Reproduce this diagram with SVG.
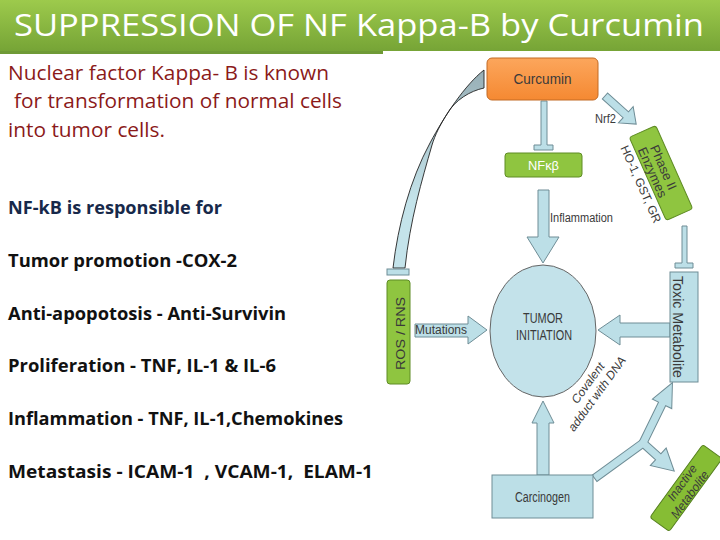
<svg xmlns="http://www.w3.org/2000/svg" width="720" height="540" viewBox="0 0 720 540">
<defs>
<linearGradient id="titleG" x1="0" y1="0" x2="0" y2="1"><stop offset="0" stop-color="#9dca4c"/><stop offset="1" stop-color="#76a436"/></linearGradient>
<linearGradient id="orangeG" x1="0" y1="0" x2="0" y2="1"><stop offset="0" stop-color="#fca65c"/><stop offset="1" stop-color="#f58932"/></linearGradient>
<linearGradient id="curveG" gradientUnits="userSpaceOnUse" x1="0" y1="70" x2="0" y2="200"><stop offset="0" stop-color="#98afb6"/><stop offset="1" stop-color="#c4e3ea"/></linearGradient>
</defs>
<style>
.lt{font-family:"Open Sans","Liberation Sans",sans-serif;font-size:20px;fill:#8b1a1a}
.lb{font-family:"Open Sans","Liberation Sans",sans-serif;font-size:17px;font-weight:bold;fill:#111111}
.dt{font-family:"Liberation Sans",Arial,sans-serif;fill:#3a3a3a}
.blue{fill:#bcdfe7;stroke:#6f8d96;stroke-width:1}
.green{fill:#8fc540;stroke:#5f8c25;stroke-width:1}
</style>
<rect width="720" height="540" fill="#ffffff"/>
<g id="title">
<rect x="0" y="0" width="720" height="51" fill="url(#titleG)"/>
<rect x="0" y="51" width="383" height="3" fill="#6f9a36"/>
<text x="14" y="36" font-family="'Open Sans','Liberation Sans',sans-serif" font-size="31" fill="#ffffff" textLength="690" lengthAdjust="spacingAndGlyphs">SUPPRESSION OF NF Kappa-B by Curcumin</text>
</g>
<g id="intro">
<text class="lt" x="8" y="80" textLength="321" lengthAdjust="spacingAndGlyphs">Nuclear factor Kappa- B is known</text>
<text class="lt" x="14" y="108" textLength="328" lengthAdjust="spacingAndGlyphs">for transformation of normal cells</text>
<text class="lt" x="8" y="137" textLength="157" lengthAdjust="spacingAndGlyphs">into tumor cells.</text>
</g>
<g id="roles">
<text class="lb" x="8" y="214" style="fill:#17294a" textLength="214" lengthAdjust="spacingAndGlyphs">NF-kB is responsible for</text>
<text class="lb" x="8" y="267" textLength="229" lengthAdjust="spacingAndGlyphs">Tumor promotion -COX-2</text>
<text class="lb" x="8" y="320" textLength="278" lengthAdjust="spacingAndGlyphs">Anti-apopotosis - Anti-Survivin</text>
<text class="lb" x="8" y="372" textLength="268" lengthAdjust="spacingAndGlyphs">Proliferation - TNF, IL-1 &amp; IL-6</text>
<text class="lb" x="8" y="425" textLength="335" lengthAdjust="spacingAndGlyphs">Inflammation - TNF, IL-1,Chemokines</text>
<text class="lb" x="8" y="478" xml:space="preserve" textLength="365" lengthAdjust="spacingAndGlyphs">Metastasis - ICAM-1  , VCAM-1,  ELAM-1</text>
</g>
<g id="connectors">
<path class="blue" d="M541,101 L547,101 L547,145 L553,145 L553,150 L534,150 L534,145 L541,145 Z"/>
<path class="blue" d="M538,190 L549,190 L549,237 L559,237 L543,263 L527,237 L538,237 Z"/>
<text class="dt" x="550" y="222" font-size="12" textLength="63" lengthAdjust="spacingAndGlyphs">Inflammation</text>
<path d="M393,268 C398,225 410,180 430,143 C445,115 465,85 484,70 L484,88 C470,91 455,100 447,114 C440,125 435,135 432,145 C422,180 410,220 405,268 Z" fill="url(#curveG)" stroke="#222" stroke-width="0.9"/>
<rect class="blue" x="387" y="269" width="22" height="6"/>
<path class="blue" d="M415,324 L468,324 L468,316 L487,330 L468,344 L468,337 L415,337 Z"/>
<text class="dt" x="441" y="334" font-size="12" text-anchor="middle" textLength="52" lengthAdjust="spacingAndGlyphs">Mutations</text>
<path class="blue" d="M670,323 L620,323 L620,315 L598,330 L620,345 L620,337 L670,337 Z"/>
<path class="blue" d="M537,475 L537,423 L532,423 L543,401 L554,423 L549,423 L549,475 Z"/>
<path class="blue" d="M682,226 L687,226 L687,263 L693,263 L693,268 L675,268 L675,263 L682,263 Z"/>
<path class="blue" transform="translate(605,96) rotate(42)" d="M0,-4 L28,-4 L28,-11 L42,0 L28,11 L28,4 L0,4 Z"/>
<text class="dt" x="595" y="123" font-size="12" textLength="21" lengthAdjust="spacingAndGlyphs">Nrf2</text>
<g id="branch">
<g stroke="#6f8d96" stroke-width="2" fill="#bcdfe7">
<path transform="translate(595,478) rotate(-36)" d="M0,-3.5 L61,-3.5 L61,3.5 L0,3.5 Z"/>
<path transform="translate(643,443) rotate(-64)" d="M0,-3.5 L44,-3.5 L44,-10 L66,0 L44,10 L44,3.5 L0,3.5 Z"/>
<path transform="translate(643,443) rotate(42)" d="M0,-3.5 L21,-3.5 L21,-11 L41,0 L21,11 L21,3.5 L0,3.5 Z"/>
</g>
<g fill="#bcdfe7">
<path transform="translate(595,478) rotate(-36)" d="M0,-3.5 L61,-3.5 L61,3.5 L0,3.5 Z"/>
<path transform="translate(643,443) rotate(-64)" d="M0,-3.5 L44,-3.5 L44,-10 L66,0 L44,10 L44,3.5 L0,3.5 Z"/>
<path transform="translate(643,443) rotate(42)" d="M0,-3.5 L21,-3.5 L21,-11 L41,0 L21,11 L21,3.5 L0,3.5 Z"/>
</g>
</g>
<text class="dt" transform="translate(588,383) rotate(-54)" y="4" font-size="12" font-style="italic" text-anchor="middle">Covalent</text>
<text class="dt" transform="translate(597,394) rotate(-54)" y="4" font-size="12" font-style="italic" text-anchor="middle" textLength="89" lengthAdjust="spacingAndGlyphs">adduct with DNA</text>
</g>
<g id="curcumin">
<rect x="487" y="58" width="111" height="42" rx="5" fill="url(#orangeG)" stroke="#c26a25" stroke-width="1"/>
<text class="dt" x="542.5" y="84" font-size="14" text-anchor="middle" textLength="58" lengthAdjust="spacingAndGlyphs">Curcumin</text>
</g>
<g id="nfkb">
<rect class="green" x="505" y="153" width="77" height="24" rx="3"/>
<text x="543.5" y="170" font-family="'Liberation Sans',Arial,sans-serif" font-size="13" fill="#ffffff" text-anchor="middle" textLength="31" lengthAdjust="spacingAndGlyphs">NFκβ</text>
</g>
<g id="tumor">
<ellipse cx="543" cy="331" rx="53" ry="66" fill="#c3e2ea" stroke="#666666" stroke-width="1"/>
<text class="dt" x="543" y="323" font-size="14" text-anchor="middle" textLength="40" lengthAdjust="spacingAndGlyphs">TUMOR</text>
<text class="dt" x="544" y="340" font-size="14" text-anchor="middle" textLength="56" lengthAdjust="spacingAndGlyphs">INITIATION</text>
</g>
<g id="ros">
<rect class="green" x="387" y="280" width="23" height="104" rx="3"/>
<text class="dt" transform="translate(405,333.5) rotate(-90)" font-size="13" text-anchor="middle" textLength="73" lengthAdjust="spacingAndGlyphs">ROS / RNS</text>
</g>
<g id="phase2" transform="translate(661,173) rotate(66)">
<rect class="green" x="-45.5" y="-14.5" width="91" height="29" rx="3"/>
<text class="dt" x="-4" y="0" font-size="13" text-anchor="middle">Phase II</text>
<text class="dt" x="-4" y="12" font-size="13" text-anchor="middle">Enzymes</text>
<text class="dt" x="2" y="27" font-size="12" text-anchor="middle">HO-1, GST, GR</text>
</g>
<g id="toxic">
<rect class="blue" x="670" y="272" width="28" height="110"/>
<text class="dt" transform="translate(673,327) rotate(90)" font-size="14" text-anchor="middle" textLength="102" lengthAdjust="spacingAndGlyphs">Toxic Metabolite</text>
</g>
<g id="carcinogen">
<rect class="blue" x="492" y="475" width="101" height="43"/>
<text class="dt" x="542.5" y="502" font-size="14" text-anchor="middle" textLength="55" lengthAdjust="spacingAndGlyphs">Carcinogen</text>
</g>
<g id="inactive" transform="translate(686,488) rotate(-54)">
<rect x="-45" y="-12" width="90" height="24" rx="3" fill="#86bd34" stroke="#557f1e" stroke-width="1"/>
<text class="dt" x="2" y="-2" font-size="12" font-style="italic" text-anchor="middle">Inactive</text>
<text class="dt" x="-3" y="11" font-size="12" font-style="italic" text-anchor="middle">Metabolite</text>
</g>
</svg>
